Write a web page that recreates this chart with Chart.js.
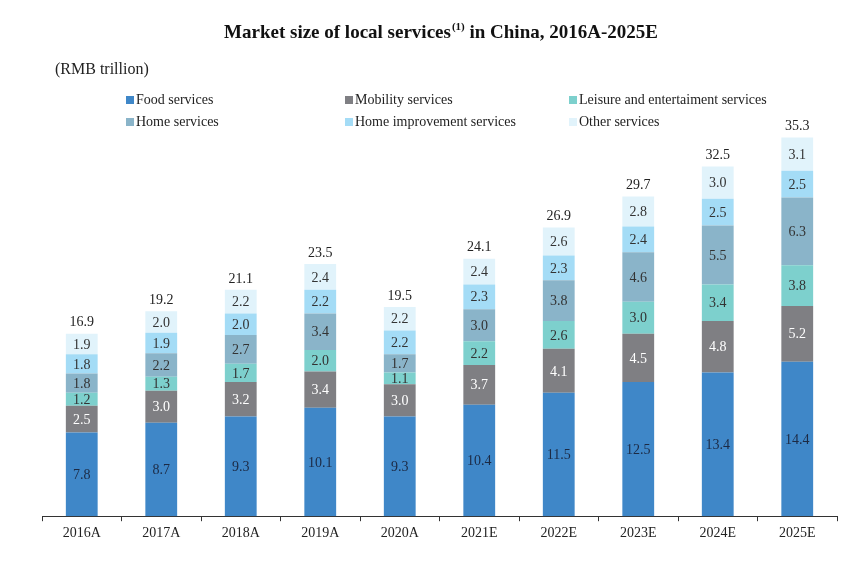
<!DOCTYPE html>
<html>
<head>
<meta charset="utf-8">
<script src="https://cdn.jsdelivr.net/npm/chart.js@4.4.0/dist/chart.umd.min.js"></script>
<style>
  html, body { margin: 0; padding: 0; background: #fff; }
  #wrap { width: 865px; height: 561px; position: relative; }
</style>
</head>
<body>
<div id="wrap"><canvas id="chart" width="865" height="561"></canvas></div>
<script>
const years = ['2016A', '2017A', '2018A', '2019A', '2020A', '2021E', '2022E', '2023E', '2024E', '2025E'];
const food = [7.8, 8.7, 9.3, 10.1, 9.3, 10.4, 11.5, 12.5, 13.4, 14.4];
const mobility = [2.5, 3.0, 3.2, 3.4, 3.0, 3.7, 4.1, 4.5, 4.8, 5.2];
const leisure = [1.2, 1.3, 1.7, 2.0, 1.1, 2.2, 2.6, 3.0, 3.4, 3.8];
const home = [1.8, 2.2, 2.7, 3.4, 1.7, 3.0, 3.8, 4.6, 5.5, 6.3];
const homeImprovement = [1.8, 1.9, 2.0, 2.2, 2.2, 2.3, 2.3, 2.4, 2.5, 2.5];
const other = [1.9, 2.0, 2.2, 2.4, 2.2, 2.4, 2.6, 2.8, 3.0, 3.1];
const totals = [16.9, 19.2, 21.1, 23.5, 19.5, 24.1, 26.9, 29.7, 32.5, 35.3];

const serif = "'Liberation Serif', 'Times New Roman', serif";

const series = [
  { label: 'Food services', data: food, color: '#3f87c8', text: '#1c2a44' },
  { label: 'Mobility services', data: mobility, color: '#7f7f83', text: '#ffffff' },
  { label: 'Leisure and entertaiment services', data: leisure, color: '#7dd0cd', text: '#333333' },
  { label: 'Home services', data: home, color: '#8ab4c9', text: '#333333' },
  { label: 'Home improvement services', data: homeImprovement, color: '#a4dcf6', text: '#333333' },
  { label: 'Other services', data: other, color: '#e1f3fb', text: '#333333' }
];

// segment values, totals, title and legend drawn on the canvas
const annotate = {
  id: 'annotate',
  afterDatasetsDraw(chart) {
    const ctx = chart.ctx;
    ctx.save();
    ctx.textAlign = 'center';
    ctx.textBaseline = 'middle';
    ctx.font = '14px ' + serif;
    chart.data.datasets.forEach((ds, i) => {
      chart.getDatasetMeta(i).data.forEach((bar, j) => {
        const mid = (bar.y + bar.base) / 2;
        ctx.fillStyle = series[i].text;
        ctx.fillText(ds.data[j].toFixed(1), bar.x, mid + 1);
      });
    });
    const top = chart.getDatasetMeta(chart.data.datasets.length - 1).data;
    ctx.fillStyle = '#222';
    top.forEach((bar, j) => {
      ctx.fillText(totals[j].toFixed(1), bar.x, bar.y - 11);
    });

    ctx.fillStyle = '#111';
    ctx.textAlign = 'left';
    const t1 = 'Market size of local services';
    const t2 = ' in China, 2016A-2025E';
    ctx.font = 'bold 11px ' + serif;
    const wSup = ctx.measureText('(1)').width;
    ctx.font = 'bold 19px ' + serif;
    const w1 = ctx.measureText(t1).width;
    const w2 = ctx.measureText(t2).width;
    let x = (865 - (w1 + wSup + w2)) / 2 + 8;
    ctx.fillText(t1, x, 33);
    ctx.font = 'bold 11px ' + serif;
    ctx.fillText('(1)', x + w1 + 1, 27);
    ctx.font = 'bold 19px ' + serif;
    ctx.fillText(t2, x + w1 + wSup + 1, 33);

    ctx.font = '16px ' + serif;
    ctx.fillStyle = '#222';
    ctx.fillText('(RMB trillion)', 55, 70);

    ctx.font = '14px ' + serif;
    const cols = [126, 345, 569];
    const rows = [100, 122];
    series.forEach((s, i) => {
      const cx = cols[i % 3];
      const cy = rows[Math.floor(i / 3)];
      ctx.fillStyle = s.color;
      ctx.fillRect(cx, cy - 4, 8, 8);
      ctx.fillStyle = '#222';
      ctx.fillText(s.label, cx + 10, cy);
    });
    ctx.restore();
  }
};

new Chart(document.getElementById('chart').getContext('2d'), {
  type: 'bar',
  data: {
    labels: years,
    datasets: series.map(s => ({
      label: s.label,
      data: s.data,
      backgroundColor: s.color,
      borderWidth: 0,
      barPercentage: 0.4,
      categoryPercentage: 1.0
    }))
  },
  options: {
    responsive: false,
    animation: false,
    layout: { padding: { left: 42, right: 28, top: 130, bottom: 15 } },
    plugins: {
      legend: { display: false },
      tooltip: { enabled: false }
    },
    scales: {
      x: {
        stacked: true,
        grid: { offset: true, drawOnChartArea: false, tickLength: 5, color: '#333', lineWidth: 1 },
        border: { color: '#333', width: 1 },
        ticks: { color: '#222', font: { family: serif, size: 14 }, padding: 4 }
      },
      y: {
        stacked: true,
        display: false,
        min: 0,
        max: 36
      }
    }
  },
  plugins: [annotate]
});
</script>
</body>
</html>
